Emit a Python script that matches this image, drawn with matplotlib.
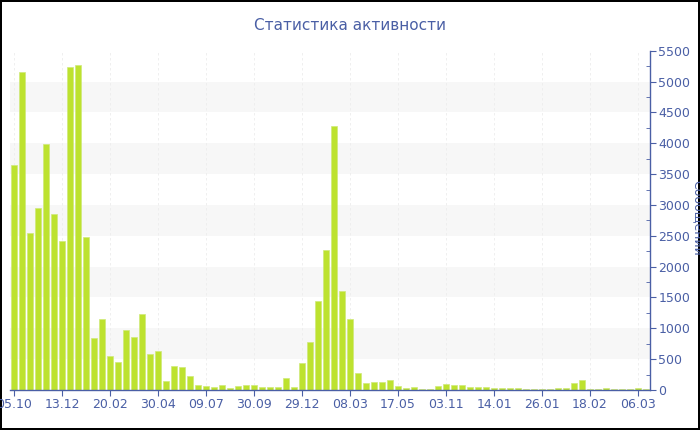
import matplotlib
matplotlib.use('Agg')
import matplotlib.pyplot as plt
import numpy as np

# weekly message counts (80 bars)
counts = [3640, 5160, 2550, 2945, 3990, 2850, 2415, 5230, 5270, 2485,
          850, 1150, 550, 455, 968, 860, 1232, 580, 632, 141,
          389, 373, 232, 81, 70, 49, 76, 38, 60, 81,
          81, 49, 43, 43, 189, 54, 443, 783, 1438, 2264,
          4274, 1600, 1146, 271, 113, 130, 130, 162, 65, 38,
          54, 16, 16, 60, 92, 86, 81, 43, 49, 43,
          32, 38, 38, 32, 22, 22, 22, 22, 27, 27,
          108, 162, 22, 22, 32, 22, 22, 22, 32, 22]
tick_labels = ['05.10', '13.12', '20.02', '30.04', '09.07', '30.09', '29.12',
               '08.03', '17.05', '03.11', '14.01', '26.01', '18.02', '06.03']
tick_step = 6

blue = '#4a5fa5'
plt.rcParams['font.family'] = ['DejaVu Sans']

fig = plt.figure(figsize=(7, 4.3), dpi=100, edgecolor='black', linewidth=1.5)
ax = fig.add_axes([10/700, 40/430, 640/700, 339.3/430])

x = np.arange(len(counts))
ax.set_xlim(-0.5, len(counts) - 0.5)
ax.set_ylim(0, 5500)

# alternating bands
for lo in range(500, 5000, 1000):
    ax.axhspan(lo, lo + 500, color='#f7f7f7', zorder=0, lw=0)

tick_pos = x[::tick_step]
for p in tick_pos:
    ax.axvline(p, color='#ededed', lw=0.6, ls=(0, (3, 3)), zorder=0.5)

ax.bar(x, counts, width=0.72, color='#bde22f', edgecolor='#cfe97a',
       linewidth=0.5, zorder=2)

ax.set_xticks(tick_pos)
ax.set_xticklabels(tick_labels)
ax.yaxis.tick_right()
ax.set_yticks(np.arange(0, 5501, 500))
ax.set_yticks(np.arange(250, 5500, 500), minor=True)
ax.tick_params(axis='both', colors=blue, labelsize=9, length=4, width=0.8, pad=2)
ax.tick_params(axis='y', which='minor', direction='in', length=3, color=blue)
ax.tick_params(axis='x', labelcolor=blue)

for s in ['top', 'left']:
    ax.spines[s].set_visible(False)
for s in ['bottom', 'right']:
    ax.spines[s].set_color(blue)
    ax.spines[s].set_linewidth(1)

fig.text(0.5, 0.94, 'Статистика активности', ha='center', va='center',
         fontsize=11, color=blue)
fig.text(0.997, 0.493, 'Сообщений', rotation=270, ha='center', va='center',
         fontsize=9, color=blue)

fig.savefig('out.png', dpi=100, edgecolor=fig.get_edgecolor())
